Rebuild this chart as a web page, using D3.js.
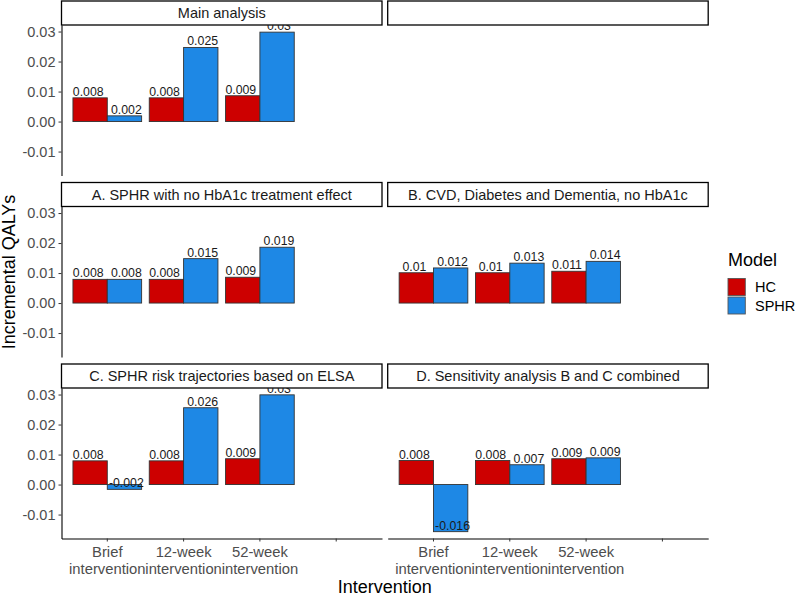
<!DOCTYPE html>
<html>
<head>
<meta charset="utf-8">
<script src="https://cdn.jsdelivr.net/npm/d3@7"></script>
<style>
	body { margin: 0; background: #fff; }
	text { font-family: "Liberation Sans", Arial, sans-serif; }
</style>
</head>
<body>
<div id="chart"></div>
<script>
// facet order follows facet_wrap, 2 columns (second slot is an empty facet)
var facets = [
	"Main analysis",
	"",
	"A. SPHR with no HbA1c treatment effect",
	"B. CVD, Diabetes and Dementia, no HbA1c",
	"C. SPHR risk trajectories based on ELSA",
	"D. Sensitivity analysis B and C combined"
];
var interventions = ["Brief intervention", "12-week intervention", "52-week intervention", ""];
var models = ["HC", "SPHR"];
var modelColors = ["#CD0000", "#1E88E5"];

// incremental QALYs, one array per facet (null = empty facet)
var hcValues = [
	[0.0079, 0.0079, 0.0086],
	null,
	[0.0079, 0.0079, 0.0086],
	[0.0101, 0.0101, 0.0106],
	[0.0079, 0.0079, 0.0086],
	[0.0080, 0.0080, 0.0086]
];
var sphrValues = [
	[0.0019, 0.0247, 0.0298],
	null,
	[0.0079, 0.0148, 0.0186],
	[0.0117, 0.0133, 0.0139],
	[-0.0016, 0.0256, 0.0299],
	[-0.0157, 0.0066, 0.0089]
];
var yTicks = [-0.01, 0, 0.01, 0.02, 0.03];

var width = 798;
var height = 596;
var panelLeft = [61.5, 387.7];
var panelWidth = 320.5;
var rowTop = [1, 182.5, 364];
var stripHeight = 24;
var panelHeight = 150.5;

var locale = d3.formatLocale({decimal: ".", thousands: ",", grouping: [3], currency: ["", ""], minus: "-"});
var tickFmt = locale.format(".2f");
var labelFmt = locale.format(".3~f");

// long format rows
var rows = [];
facets.forEach(function(f, i) {
	if (!hcValues[i]) return;
	[hcValues[i], sphrValues[i]].forEach(function(vals, m) {
		vals.forEach(function(v, j) {
			rows.push({facet: i, intervention: interventions[j], model: models[m], value: v});
		});
	});
});

// ggplot style 5% expansion
var ext = d3.extent(rows, function(d) { return d.value; });
var pad = (ext[1] - ext[0]) * 0.05;
var y = d3.scaleLinear().domain([ext[0] - pad, ext[1] + pad]).range([panelHeight, 0]);
var x = d3.scaleBand().domain(interventions).range([0, panelWidth]).paddingInner(0.1).paddingOuter(0.15);
var xModel = d3.scaleBand().domain(models).range([0, x.bandwidth()]);
var xLabel = d3.scaleBand().domain(models).range([-x.step() / 2, x.step() / 2]);
var color = d3.scaleOrdinal().domain(models).range(modelColors);

var svg = d3.select("#chart")
			.append("svg")
			.attr("width", width)
			.attr("height", height);

svg.append("defs").append("clipPath")
	.attr("id", "panel-clip")
	.append("rect")
	.attr("width", panelWidth)
	.attr("height", panelHeight);

facets.forEach(function(f, i) {
	var col = i % 2, row = Math.floor(i / 2);
	var g = svg.append("g")
			   .attr("transform", "translate(" + panelLeft[col] + "," + rowTop[row] + ")");

	// strip
	g.append("rect")
		.attr("x", 0).attr("y", 0)
		.attr("width", panelWidth).attr("height", stripHeight)
		.attr("fill", "#fff").attr("stroke", "#000").attr("stroke-width", 1.3);
	g.append("text")
		.attr("x", panelWidth / 2).attr("y", stripHeight / 2)
		.attr("dy", "0.35em")
		.attr("text-anchor", "middle")
		.attr("fill", "#1A1A1A")
		.style("font-size", "14.5px")
		.text(f);

	var p = g.append("g").attr("transform", "translate(0," + stripHeight + ")");
	var plot = p.append("g").attr("clip-path", "url(#panel-clip)");
	var data = rows.filter(function(d) { return d.facet === i; });

	plot.selectAll(".bar")
		.data(data)
		.enter()
			.append("rect")
			.attr("x", function(d) { return x(d.intervention) + xModel(d.model); })
			.attr("y", function(d) { return Math.min(y(d.value), y(0)); })
			.attr("width", xModel.bandwidth())
			.attr("height", function(d) { return Math.abs(y(d.value) - y(0)); })
			.attr("fill", function(d) { return color(d.model); })
			.attr("stroke", "#333")
			.attr("stroke-width", 0.9);

	// value labels, clipped to the panel like ggplot does
	plot.selectAll(".lbl")
		.data(data)
		.enter()
			.append("text")
			.attr("x", function(d) { return x(d.intervention) + x.bandwidth() / 2 + xLabel(d.model) + xLabel.bandwidth() / 2; })
			.attr("y", function(d) { return y(d.value) - 2; })
			.attr("text-anchor", "middle")
			.attr("fill", "#1A1A1A")
			.style("font-size", "12.3px")
			.text(function(d) { return labelFmt(d.value); });

	if (col === 0) {
		var ya = p.append("g")
				  .call(d3.axisLeft(y).tickValues(yTicks).tickFormat(tickFmt).tickSize(3).tickSizeOuter(0).tickPadding(3));
		ya.select(".domain").attr("stroke", "#000").attr("stroke-width", 1.1);
		ya.selectAll(".tick line").attr("stroke", "#333");
		ya.selectAll(".tick text").attr("fill", "#4D4D4D").style("font-size", "14.5px").style("font-family", null);
	}

	if (row === 2) {
		var xa = p.append("g")
				  .attr("transform", "translate(0," + panelHeight + ")")
				  .call(d3.axisBottom(x).tickSize(3).tickSizeOuter(0).tickPadding(5).tickFormat(""));
		xa.select(".domain").attr("stroke", "#000").attr("stroke-width", 1.1);
		xa.selectAll(".tick line").attr("stroke", "#333");
		xa.selectAll(".tick text")
			.attr("fill", "#4D4D4D")
			.style("font-size", "14.8px")
			.style("font-family", null)
			.each(function(d) {
				if (!d) return;
				var k = d.indexOf(" ");
				var t = d3.select(this);
				t.append("tspan").attr("x", 0).text(d.slice(0, k));
				t.append("tspan").attr("x", 0).attr("dy", "1.15em").text(d.slice(k + 1));
			});
	}
});

// axis titles
svg.append("text")
	.attr("transform", "translate(15,272) rotate(-90)")
	.attr("text-anchor", "middle")
	.style("font-size", "18px")
	.text("Incremental QALYs");

svg.append("text")
	.attr("x", (panelLeft[0] + panelLeft[1] + panelWidth) / 2)
	.attr("y", 593)
	.attr("text-anchor", "middle")
	.style("font-size", "18px")
	.text("Intervention");

// legend
var legend = svg.append("g").attr("transform", "translate(728,266)");
legend.append("text")
	.attr("x", 0).attr("y", 0)
	.style("font-size", "18px")
	.text("Model");
var key = legend.selectAll(".key")
				.data(models)
				.enter()
					.append("g")
					.attr("transform", function(d, i) { return "translate(0," + (12.5 + i * 18.5) + ")"; });
key.append("rect")
	.attr("width", 17.3).attr("height", 17)
	.attr("fill", function(d) { return color(d); })
	.attr("stroke", "#555").attr("stroke-width", 0.9);
key.append("text")
	.attr("x", 27).attr("y", 8.5).attr("dy", "0.35em")
	.style("font-size", "14.5px")
	.text(function(d) { return d; });
</script>
</body>
</html>
